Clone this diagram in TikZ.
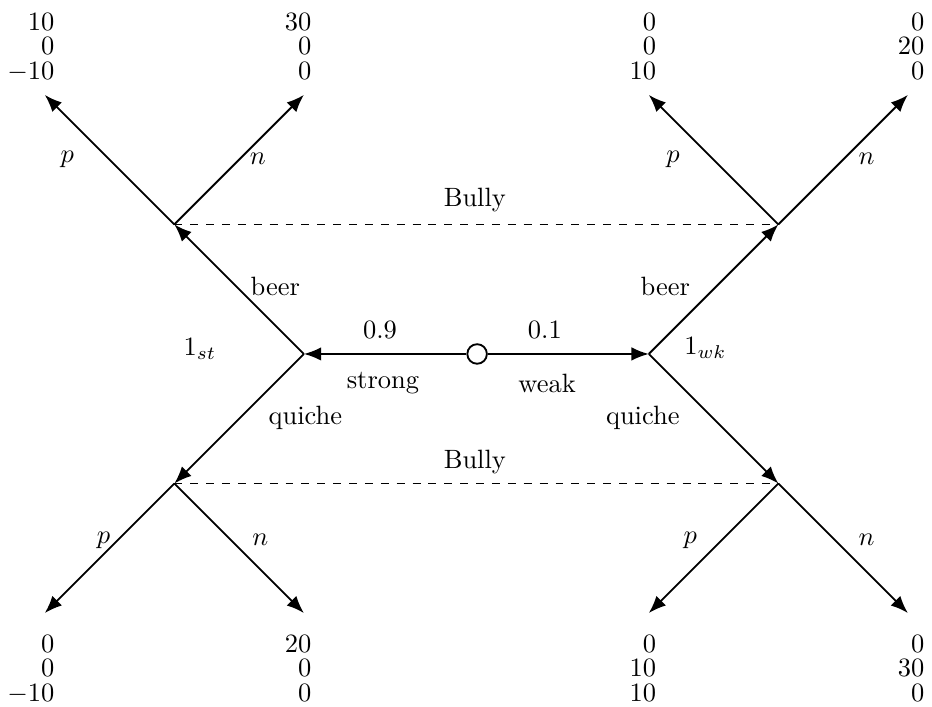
\documentclass[tikz,border=0pt]{standalone}
\usetikzlibrary{arrows.meta}
\newcommand{\payvec}[3]{$\renewcommand{\arraystretch}{0.775}\begin{array}{@{}r@{}}#1\\#2\\#3\end{array}$}
\begin{document}
\begin{tikzpicture}[>={Latex[length=2.3mm,width=1.8mm]}, line width=0.7pt,
  payoff/.style={inner sep=0pt, anchor=east},
  chance/.style={circle, draw, fill=white, inner sep=0pt, minimum size=0.26cm}]
\useasboundingbox (-6.335,-4.675) rectangle (6.04,4.70);

% nature and the two types
\node[chance] (c) at (0,0) {};
\coordinate (s) at (-2.30,0);
\coordinate (w) at (2.28,0);
\draw[->] (c) -- (s);
\draw[->] (c) -- (w);
\node at (-1.29,0.32) {0.9};
\node at (0.90,0.32) {0.1};
\node at (-1.25,-0.39) {strong};
\node at (0.93,-0.39) {weak};
\node (pst) at (-3.68,0.06) {$1_{st}$};
\node (pwk) at (3.03,0.08) {$1_{wk}$};

% breakfast
\coordinate (sb) at (-4.02,1.72);
\coordinate (sq) at (-4.02,-1.72);
\coordinate (wb) at (4.00,1.72);
\coordinate (wq) at (4.00,-1.72);
\draw[->] (s) -- (sb);
\draw[->] (s) -- (sq);
\draw[->] (w) -- (wb);
\draw[->] (w) -- (wq);
\node at (-2.68,0.89) {beer};
\node at (2.50,0.89) {beer};
\node at (-2.28,-0.85) {quiche};
\node at (2.20,-0.85) {quiche};

% bully's information sets
\draw[thin, dashed] (sb) -- (wb);
\draw[thin, dashed] (sq) -- (wq);
\node at (-0.03,2.05) {Bully};
\node at (-0.03,-1.43) {Bully};

% bully's moves
\coordinate (sbp) at (-5.74,3.44);
\coordinate (sbn) at (-2.30,3.44);
\coordinate (wbp) at (2.28,3.44);
\coordinate (wbn) at (5.72,3.44);
\coordinate (sqp) at (-5.74,-3.44);
\coordinate (sqn) at (-2.30,-3.44);
\coordinate (wqp) at (2.28,-3.44);
\coordinate (wqn) at (5.72,-3.44);
\draw[->] (sb) -- (sbp);
\draw[->] (sb) -- (sbn);
\draw[->] (wb) -- (wbp);
\draw[->] (wb) -- (wbn);
\draw[->] (sq) -- (sqp);
\draw[->] (sq) -- (sqn);
\draw[->] (wq) -- (wqp);
\draw[->] (wq) -- (wqn);
\node at (-5.44,2.59) {$p$};
\node at (-2.91,2.59) {$n$};
\node at (2.60,2.59) {$p$};
\node at (5.17,2.59) {$n$};
\node at (-4.96,-2.47) {$p$};
\node at (-2.88,-2.47) {$n$};
\node at (2.83,-2.47) {$p$};
\node at (5.17,-2.47) {$n$};

% payoffs
\node[payoff] (u1) at (-5.60,4.04) {\payvec{10}{0}{-10}};
\node[payoff] (u2) at (-2.19,4.04) {\payvec{30}{0}{0}};
\node[payoff] (u3) at (2.39,4.04) {\payvec{0}{0}{10}};
\node[payoff] (u4) at (5.95,4.04) {\payvec{0}{20}{0}};
\node[payoff] (u5) at (-5.60,-4.22) {\payvec{0}{0}{-10}};
\node[payoff] (u6) at (-2.19,-4.22) {\payvec{20}{0}{0}};
\node[payoff] (u7) at (2.39,-4.22) {\payvec{0}{10}{10}};
\node[payoff] (u8) at (5.95,-4.22) {\payvec{0}{30}{0}};
\end{tikzpicture}
\end{document}
